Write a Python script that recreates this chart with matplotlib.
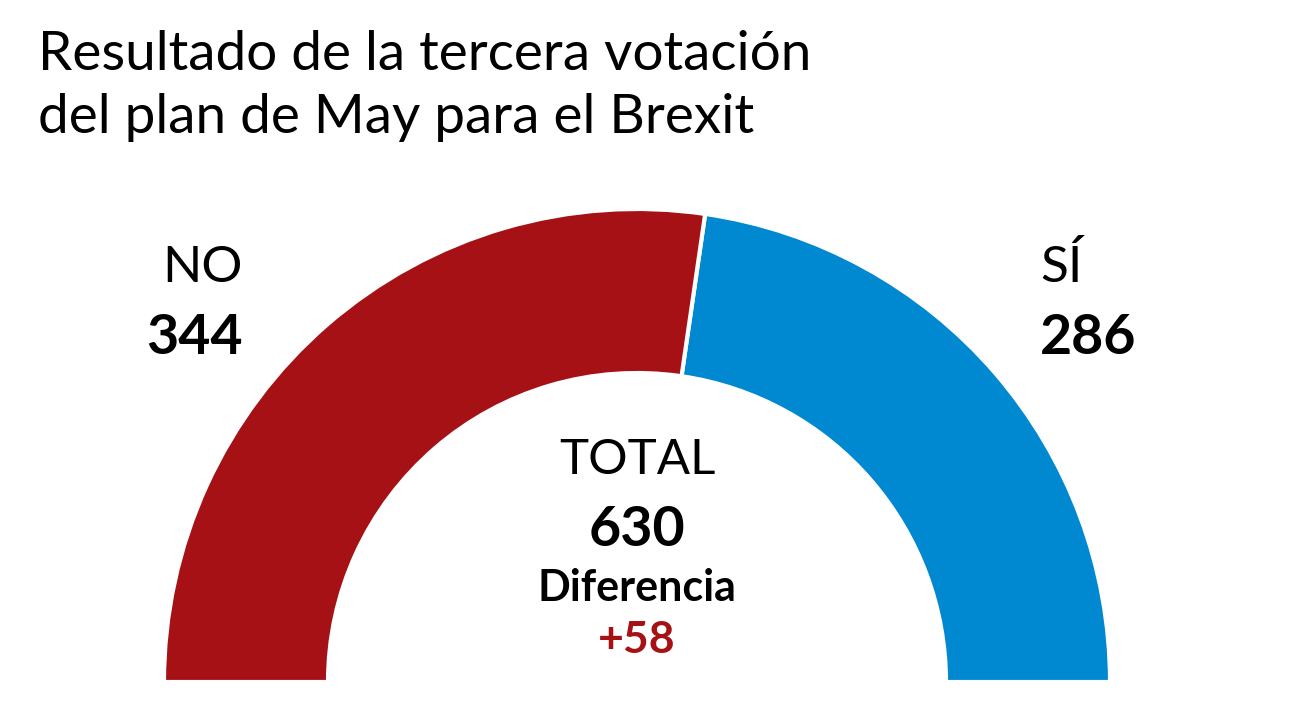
import matplotlib
matplotlib.use("Agg")
import matplotlib.pyplot as plt

# datos
labels = ["SÍ", "NO"]
votos = [286, 344]
colores = ["#0088D1", "#A51114"]
total = sum(votos)
diferencia = votos[1] - votos[0]

plt.rcParams['font.family'] = ['Lato', 'DejaVu Sans']

fig = plt.figure(figsize=(12.93, 7.28), dpi=100)
ax = fig.add_axes([0, 0, 1, 1])

# media dona: la mitad inferior es un trozo invisible
wedges, _ = ax.pie(votos + [total], colors=colores + ["none"], startangle=0,
                   counterclock=True, radius=473, center=(637, 46),
                   wedgeprops=dict(width=164, edgecolor="white", linewidth=3))
wedges[-1].set_edgecolor("none")

ax.set_xlim(0, 1293)
ax.set_ylim(0, 728)
ax.set_aspect("auto")
ax.axis("off")

# titulo
ax.text(38, 728 - 55, "Resultado de la tercera votación", fontsize=39.5, va="center", ha="left")
ax.text(38, 728 - 118, "del plan de May para el Brexit", fontsize=39.5, va="center", ha="left")

# etiquetas
ax.text(243, 728 - 268, labels[1], fontsize=37, ha="right", va="center")
ax.text(243, 728 - 338, str(votos[1]), fontsize=40, fontweight="bold", ha="right", va="center")
ax.text(1040, 728 - 268, labels[0], fontsize=37, ha="left", va="center")
ax.text(1040, 728 - 338, str(votos[0]), fontsize=40, fontweight="bold", ha="left", va="center")

ax.text(637, 728 - 460, "TOTAL", fontsize=35.5, ha="center", va="center")
ax.text(637, 728 - 530, str(total), fontsize=40, fontweight="bold", ha="center", va="center")
ax.text(637, 728 - 588, "Diferencia", fontsize=31, fontweight="bold", ha="center", va="center")
ax.text(637, 728 - 640, f"+{diferencia}", fontsize=32, fontweight="bold", color="#A51114",
        ha="center", va="center")

fig.savefig("out.png", dpi=100, facecolor="white")
